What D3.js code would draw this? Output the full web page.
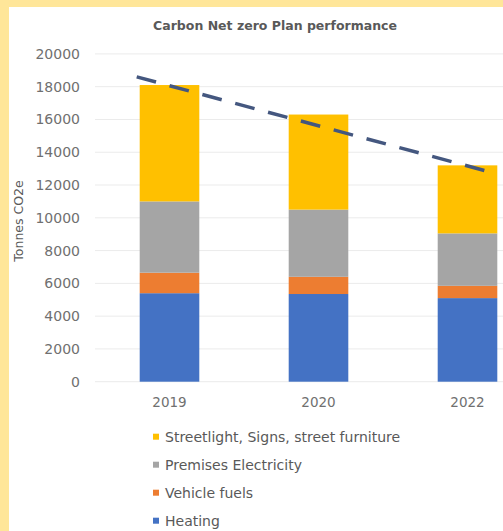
<!DOCTYPE html>
<html>
<head>
<meta charset="utf-8">
<script src="https://cdn.jsdelivr.net/npm/d3@7"></script>
<style>
    body { margin: 0; padding: 0; background: #FFE699; }
    #chart { width: 503px; height: 531px; overflow: hidden; }
    text { font-family: "DejaVu Sans", sans-serif; fill: #595959; }
</style>
</head>
<body>
<div id="chart"></div>
<script>
// categories and series (tonnes CO2e)
const years = ["2019", "2020", "2022"];
const seriesNames = ["Heating", "Vehicle fuels", "Premises Electricity", "Streetlight, Signs, street furniture"];
const heating = [5400, 5350, 5100];
const vehicleFuels = [1250, 1050, 750];
const premisesElectricity = [4350, 4100, 3200];
const streetlight = [7100, 5800, 4150];
const seriesColors = ["#4472C4", "#ED7D31", "#A5A5A5", "#FFC000"];
const yTicks = [0, 2000, 4000, 6000, 8000, 10000, 12000, 14000, 16000, 18000, 20000];

// dashed target line, position in category units
const trendPos = [-0.22, 2.19];
const trendValues = [18600, 12700];

class stackedBarVis {
    constructor(parentElement) {
        this.parentElement = parentElement;
        this.initVis();
    }

    initVis() {
        let vis = this;

        vis.margin = {top: 53.9, left: 95, bottom: 149.3};
        vis.plotWidth = 447;
        vis.height = 531 - vis.margin.top - vis.margin.bottom;

        vis.root = d3.select("#" + vis.parentElement).append("svg")
            .attr("width", 503)
            .attr("height", 531);

        // yellow frame + white card
        vis.root.append("rect")
            .attr("width", 503).attr("height", 531)
            .attr("fill", "#FFE699");
        vis.root.append("rect")
            .attr("x", 9).attr("y", 7)
            .attr("width", 503).attr("height", 531)
            .attr("fill", "#ffffff");

        vis.root.append("text")
            .attr("x", 275).attr("y", 30)
            .attr("text-anchor", "middle")
            .style("font-size", "12.5px")
            .style("font-weight", "bold")
            .text("Carbon Net zero Plan performance");

        vis.svg = vis.root.append("g")
            .attr("transform", `translate (${vis.margin.left}, ${vis.margin.top})`);

        vis.x = d3.scaleBand()
            .domain(years)
            .range([0, vis.plotWidth])
            .paddingInner(0.6)
            .paddingOuter(0.3);

        vis.y = d3.scaleLinear()
            .domain([0, 20000])
            .range([vis.height, 0]);

        // gridlines
        vis.svg.append("g")
            .selectAll("line")
            .data(yTicks)
            .enter().append("line")
            .attr("x1", 0)
            .attr("x2", vis.plotWidth)
            .attr("y1", d => vis.y(d))
            .attr("y2", d => vis.y(d))
            .attr("stroke", "#EBEBEB")
            .attr("stroke-width", 1);

        // y axis labels
        vis.yAxis = d3.axisLeft(vis.y).tickValues(yTicks).tickFormat(d3.format("d")).tickSize(0).tickPadding(15);
        vis.svg.append("g")
            .attr("class", "y-axis axis")
            .call(vis.yAxis)
            .call(g => g.select(".domain").remove())
            .selectAll("text")
            .style("font-family", "DejaVu Sans")
            .style("font-size", "14px")
            .style("fill", "#707070");

        // x axis labels
        vis.xAxis = d3.axisBottom(vis.x).tickSize(0).tickPadding(16);
        vis.svg.append("g")
            .attr("class", "x-axis axis")
            .attr("transform", "translate(0," + vis.height + ")")
            .call(vis.xAxis)
            .call(g => g.select(".domain").remove())
            .selectAll("text")
            .style("font-family", "DejaVu Sans")
            .style("font-size", "13.5px")
            .style("fill", "#707070");

        vis.root.append("text")
            .attr("transform", "translate(23, 221) rotate(-90)")
            .attr("text-anchor", "middle")
            .style("font-size", "12.5px")
            .text("Tonnes CO2e");

        vis.wrangleData();
    }

    wrangleData() {
        let vis = this;

        let values = [heating, vehicleFuels, premisesElectricity, streetlight];
        vis.rows = years.map((year, i) => {
            let row = {year: year};
            seriesNames.forEach((name, k) => { row[name] = values[k][i]; });
            return row;
        });

        vis.stacked = d3.stack().keys(seriesNames)(vis.rows);

        vis.updateVis();
    }

    updateVis() {
        let vis = this;

        vis.svg.append("g")
            .selectAll("g")
            .data(vis.stacked)
            .enter().append("g")
            .attr("fill", (d, i) => seriesColors[i])
            .selectAll("rect")
            .data(d => d)
            .enter().append("rect")
            .attr("x", d => vis.x(d.data.year))
            .attr("y", d => vis.y(d[1]))
            .attr("width", vis.x.bandwidth())
            .attr("height", d => vis.y(d[0]) - vis.y(d[1]));

        // dashed line
        let pos = d3.scaleLinear()
            .domain([0, years.length - 1])
            .range([vis.x(years[0]) + vis.x.bandwidth() / 2, vis.x(years[years.length - 1]) + vis.x.bandwidth() / 2]);

        let linePts = trendPos.map((p, i) => [pos(p), vis.y(trendValues[i])]);

        vis.svg.append("path")
            .datum(linePts)
            .attr("d", d3.line())
            .attr("fill", "none")
            .attr("stroke", "#44577F")
            .attr("stroke-width", 3.5)
            .attr("stroke-dasharray", "20,14");

        // legend (top entry = top of stack)
        let legend = vis.root.append("g")
            .selectAll("g")
            .data(seriesNames.slice().reverse())
            .enter().append("g")
            .attr("transform", (d, i) => `translate(153, ${436.7 + i * 28})`);

        legend.append("rect")
            .attr("x", 0).attr("y", -3)
            .attr("width", 6).attr("height", 6)
            .attr("fill", d => seriesColors[seriesNames.indexOf(d)]);

        legend.append("text")
            .attr("x", 12)
            .attr("dy", "0.35em")
            .style("font-size", "14px")
            .text(d => d);
    }
}

new stackedBarVis("chart");
</script>
</body>
</html>
